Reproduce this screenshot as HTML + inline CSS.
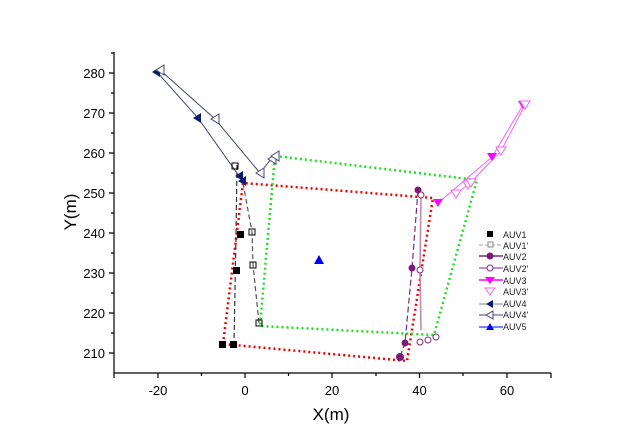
<!DOCTYPE html>
<html><head><style>body{margin:0;background:#fff}svg{display:block}</style></head><body>
<svg width="639" height="448" viewBox="0 0 639 448" xmlns="http://www.w3.org/2000/svg" font-family="Liberation Sans, sans-serif">
<rect width="639" height="448" fill="#fff"/>
<!-- axes -->
<g stroke="#000" stroke-width="1.2" fill="none">
<path d="M114,52 V373 H551"/>
<path d="M158,373v5M245,373v5M332,373v5M419.5,373v5M507,373v5M114,373v5M551,373v5"/>
<path d="M201.5,373v3M288.5,373v3M376,373v3M463,373v3"/>
<path d="M114,73h-5M114,113h-5M114,153h-5M114,193h-5M114,233h-5M114,273h-5M114,313h-5M114,353h-5"/>
<path d="M114,53h-3M114,93h-3M114,133h-3M114,173h-3M114,213h-3M114,253h-3M114,293h-3M114,333h-3"/>
</g>
<g font-size="13" fill="#000" text-anchor="middle">
<text x="158" y="395">-20</text><text x="245" y="395">0</text><text x="332" y="395">20</text><text x="419.5" y="395">40</text><text x="507" y="395">60</text>
</g>
<g font-size="13" fill="#000" text-anchor="end">
<text x="105" y="78">280</text><text x="105" y="118">270</text><text x="105" y="158">260</text><text x="105" y="198">250</text><text x="105" y="238">240</text><text x="105" y="278">230</text><text x="105" y="318">220</text><text x="105" y="358">210</text>
</g>
<text x="331" y="420" font-size="17" text-anchor="middle">X(m)</text>
<text transform="translate(76,212) rotate(-90)" font-size="17" text-anchor="middle">Y(m)</text>

<!-- red & green polygons -->
<polygon points="223,344 243,183 433,198 407,361" fill="none" stroke="#e00" stroke-width="2.5" stroke-dasharray="2,3"/>
<polygon points="275,156 477,180 434,335 260,326" fill="none" stroke="#2d2" stroke-width="2.5" stroke-dasharray="2,3"/>

<!-- AUV4 -->
<polyline points="157,72 198,118 239,176 242,181" fill="none" stroke="#447" stroke-width="1"/>
<polyline points="160,70 215,119 260,173 271,159 274,156" fill="none" stroke="#447" stroke-width="1"/>
<g fill="#0b1a6e">
<path d="M152,72 l8,-5 v10z"/><path d="M193,118 l8,-5 v10z"/><path d="M235,176 l8,-5 v10z"/><path d="M238,181 l8,-5 v10z"/>
</g>
<g fill="#fff" stroke="#447">
<path d="M156,70 l8,-5 v10z"/><path d="M211,119 l8,-5 v10z"/><path d="M256,173 l8,-5 v10z"/><path d="M268,159 l8,-5 v10z"/><path d="M271,156 l8,-5 v10z"/>
</g>

<!-- AUV1 -->
<polyline points="237,165 236,234 234,345" fill="none" stroke="#333" stroke-width="1.2" stroke-dasharray="5,3"/>
<polyline points="243,183 252,232 253,265 259,323" fill="none" stroke="#555" stroke-width="1.2" stroke-dasharray="5,3"/>
<g fill="#000"><rect x="219" y="341" width="7" height="7"/><rect x="230" y="341" width="7" height="7"/><rect x="233" y="267" width="7" height="7"/><rect x="237" y="231" width="7" height="7"/></g>
<g fill="none" stroke="#000" stroke-width="1"><rect x="232" y="163" width="6" height="6"/><rect x="249" y="229" width="6" height="6"/><rect x="250" y="262" width="6" height="6"/><rect x="256" y="320" width="6" height="6"/></g>

<!-- AUV2 -->
<polyline points="418,190 412,268 405,343 400,357" fill="none" stroke="#7a2c7a" stroke-width="1.2" stroke-dasharray="6,3"/>
<polyline points="421,195 420,270 421,330" fill="none" stroke="#b8a" stroke-width="1.5"/>
<g fill="#7a1a7a"><circle cx="418" cy="190" r="3.5"/><circle cx="412" cy="268" r="3.5"/><circle cx="405" cy="343" r="3.5"/><circle cx="400" cy="357" r="4"/></g>
<g fill="#fff" stroke="#7a2c7a"><circle cx="421" cy="195" r="3"/><circle cx="420" cy="270" r="3"/><circle cx="420" cy="342" r="3"/><circle cx="428" cy="340" r="3"/><circle cx="436" cy="337" r="3"/></g>

<!-- AUV3 -->
<polyline points="438,203 492,157 523,105" fill="none" stroke="#e6e" stroke-width="1"/>
<polyline points="456,194 470,183 501,151 525,105" fill="none" stroke="#e6e" stroke-width="1"/>
<g fill="#f0f"><path d="M433,199 h10 l-5,8z"/><path d="M487,153 h10 l-5,8z"/><path d="M518,101 h10 l-5,8z"/></g>
<g fill="#fff" stroke="#e6e"><path d="M451,190 h10 l-5,8z"/><path d="M463,181 h10 l-5,8z"/><path d="M466,179 h10 l-5,8z"/><path d="M496,147 h10 l-5,8z"/><path d="M520,101 h10 l-5,8z"/></g>

<!-- AUV5 -->
<path d="M319,255 l5,9 h-10z" fill="#00f"/>

<!-- legend -->
<g font-size="9" fill="#222">
<rect x="487" y="231" width="6" height="6" fill="#000"/><text x="503" y="238">AUV1</text>
<path d="M479,245 h24" stroke="#aaa" stroke-dasharray="4,2"/><rect x="488" y="242" width="5" height="5" fill="#fff" stroke="#888"/><text x="503" y="249">AUV1'</text>
<path d="M479,256 h24" stroke="#7a2c7a" stroke-width="1.5"/><circle cx="490" cy="256" r="3.5" fill="#7a1a7a"/><text x="503" y="260">AUV2</text>
<path d="M479,268 h24" stroke="#7a2c7a"/><circle cx="490" cy="268" r="3" fill="#fff" stroke="#7a2c7a"/><text x="503" y="272">AUV2'</text>
<path d="M479,280 h24" stroke="#f0f" stroke-width="1.5"/><path d="M485,277 h10 l-5,7z" fill="#f0f"/><text x="503" y="284">AUV3</text>
<path d="M485,288 h10 l-5,7z" fill="#fff" stroke="#e6e"/><text x="503" y="295">AUV3'</text>
<path d="M479,304 h24" stroke="#888"/><path d="M486,304 l7,-4 v8z" fill="#0b1a6e"/><text x="503" y="307">AUV4</text>
<path d="M479,315 h24" stroke="#447"/><path d="M486,315 l7,-4 v8z" fill="#fff" stroke="#447"/><text x="503" y="318">AUV4'</text>
<path d="M479,327 h24" stroke="#00f"/><path d="M490,323 l4,7 h-8z" fill="#00f"/><text x="503" y="330">AUV5</text>
</g>
</svg>
</body></html>
